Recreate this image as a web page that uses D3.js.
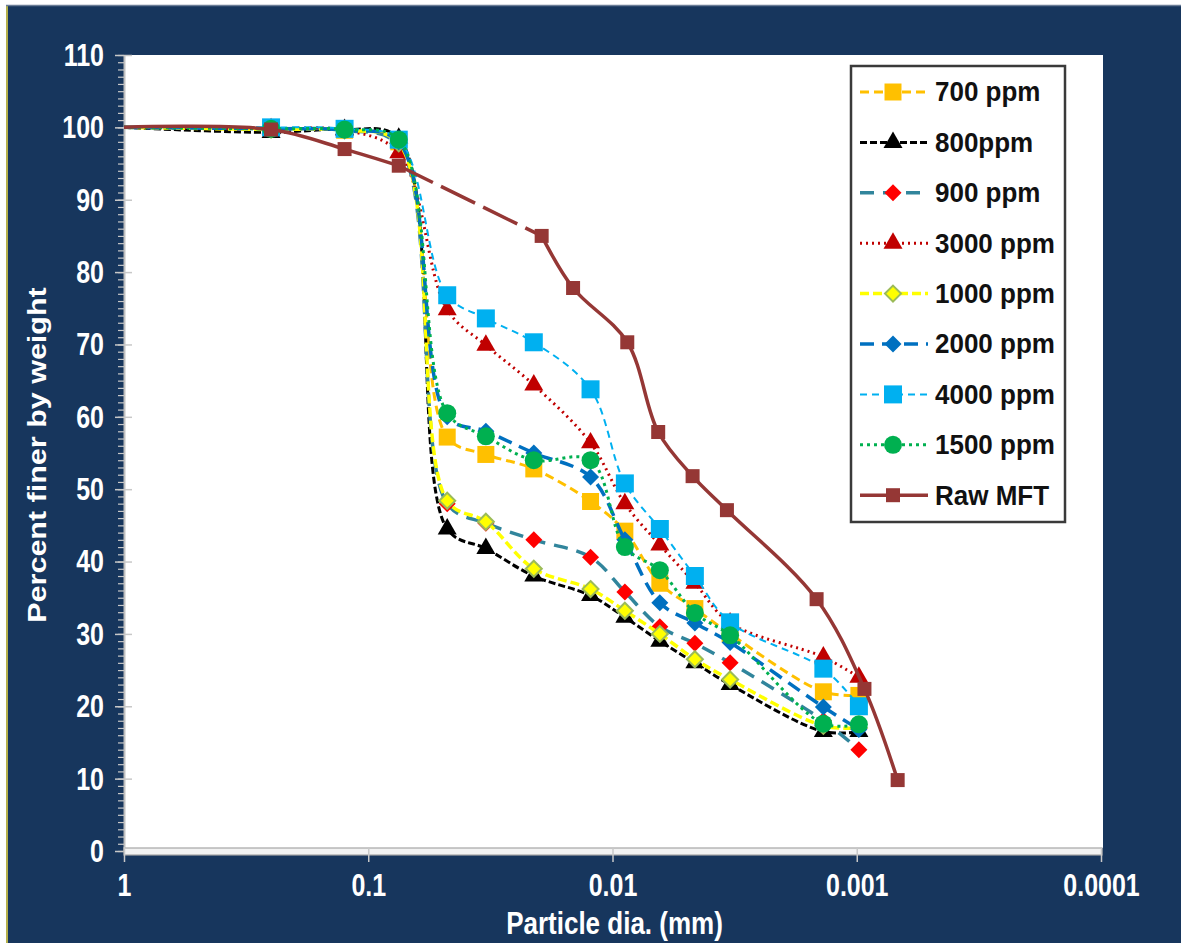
<!DOCTYPE html>
<html><head><meta charset="utf-8">
<script src="https://cdn.jsdelivr.net/npm/d3@7"></script>
<style>
html,body{margin:0;padding:0;background:#fff;}
svg{display:block;}
text{font-family:"Liberation Sans",Arial,sans-serif;font-weight:bold;}
</style>
</head><body>
<svg id="c" width="1181" height="943"></svg>
<script>
// ---------- data ----------
const diam = [1, 0.25, 0.125, 0.075, 0.0475, 0.033, 0.021, 0.0123, 0.0089, 0.0064, 0.0046, 0.0033, 0.00137, 0.00098];
const ppm700  = [100, 99.8, 99.6, 98.0, 57.2, 54.8, 52.8, 48.3, 44.2, 37.0, 33.5, 30.0, 22.0, 21.5];
const ppm800  = [100, 99.3, 99.7, 98.5, 44.5, 41.8, 38.0, 35.3, 32.3, 29.0, 26.0, 23.0, 16.5, 16.5];
const ppm900  = [100, 99.8, 99.6, 97.5, 48.0, 45.3, 43.0, 40.6, 35.8, 31.0, 28.7, 26.0, 18.0, 14.0];
const ppm3000 = [100, 99.8, 99.6, 96.5, 74.8, 69.9, 64.4, 56.4, 48.0, 42.3, 37.0, 31.5, 26.8, 24.0];
const ppm1000 = [100, 99.7, 99.6, 97.8, 48.4, 45.5, 39.0, 36.2, 33.2, 30.0, 26.5, 23.7, 17.3, 17.0];
const ppm2000 = [100, 99.8, 99.6, 98.0, 60.0, 58.0, 55.0, 51.7, 43.0, 34.3, 31.5, 28.8, 19.9, 16.8];
const ppm4000 = [100, 100, 99.8, 98.3, 76.8, 73.6, 70.3, 63.8, 50.8, 44.5, 38.0, 31.6, 25.2, 20.0];
const ppm1500 = [100, 99.8, 99.7, 98.3, 60.5, 57.3, 54.0, 54.0, 42.0, 38.8, 32.9, 29.8, 17.6, 17.5];
const diamRaw = [1, 0.25, 0.125, 0.075, 0.0195, 0.0145, 0.0087, 0.0065, 0.0047, 0.0034, 0.00146, 0.00093, 0.00068];
const rawMFT  = [100, 99.7, 97.0, 94.7, 85.0, 77.8, 70.3, 57.9, 51.8, 47.1, 34.8, 22.4, 9.8];
const seriesNames = ["700 ppm", "800ppm", "900 ppm", "3000 ppm", "1000 ppm", "2000 ppm", "4000 ppm", "1500 ppm", "Raw MFT"];
const xTickVals = [1, 0.1, 0.01, 0.001, 0.0001];
const xTickLabels = ["1", "0.1", "0.01", "0.001", "0.0001"];
const yTickVals = [0, 10, 20, 30, 40, 50, 60, 70, 80, 90, 100, 110];
const xTitle = "Particle dia. (mm)";
const yTitle = "Percent  finer by weight";

// ---------- styles ----------
const styles = [
  {line:"#FFC000", w:3,   dash:"9,5",  m:"square",   fill:"#FFC000", stroke:"none", s:17},
  {line:"#000000", w:3,   dash:"7,3",  m:"triangle", fill:"#000000", stroke:"none", s:19},
  {line:"#31859C", w:3.5, dash:"14,9", m:"diamond",  fill:"#FF0000", stroke:"none", s:17},
  {line:"#C00000", w:3,   dash:"2,4",  m:"triangle", fill:"#C00000", stroke:"none", s:19},
  {line:"#FFFF00", w:3.5, dash:"9,4",  m:"diamond",  fill:"#FFFF00", stroke:"#9BBB59", s:16},
  {line:"#0070C0", w:3.5, dash:"14,8", m:"diamond",  fill:"#0070C0", stroke:"none", s:17},
  {line:"#00B0F0", w:2,   dash:"7,5",  m:"square",   fill:"#00B0F0", stroke:"none", s:18},
  {line:"#00B050", w:3,   dash:"3,4",  m:"circle",   fill:"#00B050", stroke:"none", s:18},
  {line:"#953735", w:3.5, dash:null,   m:"square",   fill:"#953735", stroke:"none", s:14}
];
const seriesVals = [ppm700, ppm800, ppm900, ppm3000, ppm1000, ppm2000, ppm4000, ppm1500, rawMFT];

const W = 1181, H = 943;
const L = 124, R = 1101, T = 55, B = 851;
const svg = d3.select("#c");
const x = d3.scaleLog().domain([1, 0.0001]).range([L, R]);
const y = d3.scaleLinear().domain([0, 110]).range([B, T]);
const SY = 1.22;

// background
svg.append("rect").attr("x",0).attr("y",0).attr("width",W).attr("height",H).attr("fill","#ffffff");
svg.append("rect").attr("x",6).attr("y",5).attr("width",W-6).attr("height",H-5).attr("fill","#17365D");
svg.append("line").attr("x1",7).attr("x2",7).attr("y1",5).attr("y2",H).attr("stroke","#b5b04a").attr("stroke-width",2);
svg.append("line").attr("x1",6).attr("x2",W).attr("y1",5.5).attr("y2",5.5).attr("stroke","#6b7d96").attr("stroke-width",1.5);
// plot area
svg.append("rect").attr("x",L).attr("y",T).attr("width",R-L+2).attr("height",B-T-3).attr("fill","#ffffff");

svg.append("defs").append("clipPath").attr("id","clip")
  .append("rect").attr("x",L).attr("y",T-10).attr("width",R-L).attr("height",B-T+10);

// axes
const yMinor = svg.append("g").attr("transform",`translate(${L},0)`)
  .call(d3.axisLeft(y).tickValues(d3.range(0,111,1)).tickSize(6).tickFormat(""));
yMinor.select(".domain").remove();
yMinor.selectAll("line").attr("stroke","#c8c8c8").attr("stroke-width",1.2);

const yAxis = svg.append("g").attr("transform",`translate(${L},0)`)
  .call(d3.axisLeft(y).tickValues(yTickVals).tickSize(9).tickPadding(12).tickSizeOuter(0));
yAxis.select(".domain").attr("stroke","#bfbfbf").attr("stroke-width",2);
yAxis.selectAll(".tick line").attr("stroke","#c8c8c8").attr("stroke-width",1.5).attr("x2",-9).attr("x1",8);
yAxis.selectAll(".tick text").attr("fill","#ffffff").attr("font-size",25)
  .attr("font-family",'"Liberation Sans",Arial,sans-serif').attr("font-weight","bold")
  .attr("x",-20).attr("dy",null).attr("dominant-baseline","central")
  .attr("transform",`scale(1,${SY})`);

// x axis band
svg.append("rect").attr("x",L).attr("y",B-3).attr("width",R-L+1).attr("height",7)
  .attr("fill","#f2f2f2").attr("stroke","#a6a6a6").attr("stroke-width",1.2);
const xAxis = svg.append("g").attr("transform",`translate(0,${B})`)
  .call(d3.axisBottom(x).tickValues(xTickVals).tickFormat((d,i)=>xTickLabels[i]).tickSize(11).tickPadding(14).tickSizeOuter(0));
xAxis.select(".domain").remove();
xAxis.selectAll(".tick line").attr("stroke","#c8c8c8").attr("stroke-width",1.5).attr("y1",-4);
xAxis.selectAll(".tick text").attr("fill","#ffffff").attr("font-size",25)
  .attr("font-family",'"Liberation Sans",Arial,sans-serif').attr("font-weight","bold")
  .attr("dy",null).attr("dominant-baseline","central")
  .attr("transform",`scale(1,${SY})`).attr("y",35/SY);

// titles
svg.append("text").attr("transform",`translate(${(L+R)/2+2},934) scale(1,${SY})`)
  .attr("text-anchor","middle").attr("fill","#fff").attr("font-size",26).text(xTitle);
svg.append("text").attr("transform",`translate(46,${(T+B)/2+2}) rotate(-90) scale(${SY},1)`)
  .attr("text-anchor","middle").attr("fill","#fff").attr("font-size",25).text(yTitle);

// marker generator
function markerPath(type, s){
  if(type==="square") return d3.symbol(d3.symbolSquare, s*s)();
  if(type==="circle") return d3.symbol(d3.symbolCircle, Math.PI*s*s/4)();
  if(type==="triangle") return d3.symbol(d3.symbolTriangle, Math.sqrt(3)/4*s*s)();
  if(type==="diamond"){ const h=s/2; return `M0,${-h}L${h},0L0,${h}L${-h},0Z`; }
}

const plot = svg.append("g").attr("clip-path","url(#clip)");
const lineGen = d3.line().x(d=>x(d[0])).y(d=>y(d[1])).curve(d3.curveCatmullRom.alpha(0.5));

seriesVals.forEach((vals, si)=>{
  const st = styles[si];
  const xs = si===8 ? diamRaw : diam;
  const pts = xs.map((d,i)=>[d, vals[i]]);
  const g = plot.append("g");
  if(si===8){
    // raw MFT: dashed stretch between 0.075 and 0.0195 mm
    g.append("path").attr("d", lineGen(pts.slice(0,4))).attr("fill","none")
      .attr("stroke",st.line).attr("stroke-width",st.w);
    g.append("path").attr("d", d3.line().x(d=>x(d[0])).y(d=>y(d[1]))(pts.slice(3,5))).attr("fill","none")
      .attr("stroke",st.line).attr("stroke-width",st.w).attr("stroke-dasharray","38,9");
    g.append("path").attr("d", lineGen(pts.slice(4))).attr("fill","none")
      .attr("stroke",st.line).attr("stroke-width",st.w);
  } else {
    g.append("path").attr("d", lineGen(pts)).attr("fill","none")
      .attr("stroke",st.line).attr("stroke-width",st.w).attr("stroke-dasharray",st.dash);
  }
  // markers only for measured points inside the plot (not the 1 mm axis edge)
  g.selectAll("path.m").data(pts.filter(d=>d[0] < 1)).join("path").attr("class","m")
    .attr("transform",d=>`translate(${x(d[0])},${y(d[1])})`)
    .attr("d", markerPath(st.m, st.s))
    .attr("fill", st.fill).attr("stroke", st.stroke).attr("stroke-width", st.stroke==="none"?0:2);
});

// legend
const lg = svg.append("g");
lg.append("rect").attr("x",851).attr("y",66).attr("width",214).attr("height",456)
  .attr("fill","#fff").attr("stroke","#3a3a3a").attr("stroke-width",2.5);
seriesNames.forEach((name, i)=>{
  const st = styles[i];
  const cy = 92 + i*50.4;
  lg.append("line").attr("x1",860).attr("x2",928).attr("y1",cy).attr("y2",cy)
    .attr("stroke",st.line).attr("stroke-width",st.w).attr("stroke-dasharray",st.dash);
  lg.append("path").attr("transform",`translate(893,${cy})`).attr("d",markerPath(st.m, st.s))
    .attr("fill",st.fill).attr("stroke",st.stroke).attr("stroke-width",st.stroke==="none"?0:2);
  lg.append("text").attr("transform",`translate(935,${cy}) scale(1,1.08)`).attr("dominant-baseline","central")
    .attr("fill","#111").attr("font-size",26).text(name);
});
</script>
</body></html>
